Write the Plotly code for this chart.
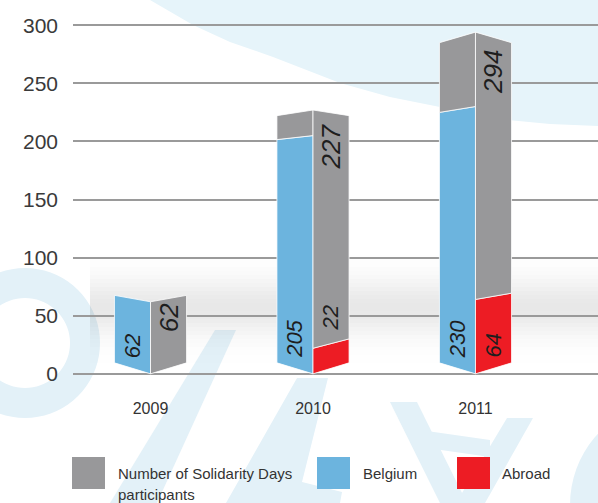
import math
import plotly.graph_objects as go

# ---------------- data ----------------
years = ["2009", "2010", "2011"]
belgium = [62, 205, 230]
abroad = [0, 22, 64]
total = [62, 227, 294]
y_ticks = [0, 50, 100, 150, 200, 250, 300]
legend_labels = ["Number of Solidarity Days", "participants", "Belgium", "Abroad"]

# ---------------- layout geometry ----------------
W, H = 598, 503
ML, MR, MT, MB = 73, 0, 24, 128
PW = W - ML - MR
PH = H - MT - MB


def px(x):
    return (x - ML) / PW


def py(y):
    return (H - MB - y) / PH


GRAY = "#98989a"
BLUE = "#6cb4de"
RED = "#ed1c24"
GHOST = "#e3f1f8"
TXT = "#333333"
FONT = "Liberation Sans, Arial, sans-serif"

HALF = 0.222     # width of one face, in category units
EYE = 150        # perspective eye level, in value units
PERSP = 0.063    # perspective strength


def outer(v):
    return v + PERSP * (EYE - v)


fig = go.Figure()


def face(xc, side, y0, y1, color):
    xo = xc + side * HALF
    fig.add_trace(go.Scatter(
        x=[xc, xo, xo, xc, xc],
        y=[y0, outer(y0), outer(y1), y1, y0],
        fill="toself", fillcolor=color, mode="lines",
        line=dict(color="white", width=0.8),
        hoverinfo="skip", showlegend=False))


annotations = []
for i, yr in enumerate(years):
    xc = i
    face(xc, -1, 0, belgium[i], BLUE)
    if total[i] > belgium[i]:
        face(xc, -1, belgium[i], total[i], GRAY)
    if abroad[i] > 0:
        face(xc, 1, 0, abroad[i], RED)
    face(xc, 1, abroad[i], total[i], GRAY)

    # Belgium label (left face, bottom)
    annotations.append(dict(x=xc - HALF / 2, y=12, xref="x", yref="y",
                            text="<i>%d</i>" % belgium[i], textangle=-90,
                            showarrow=False, xanchor="center", yanchor="bottom",
                            font=dict(family=FONT, size=22, color="#1e1e1e")))
    # total label (right face, top)
    annotations.append(dict(x=xc + HALF / 2, y=outer(total[i]) - 5, xref="x", yref="y",
                            text="<i>%d</i>" % total[i], textangle=-90,
                            showarrow=False, xanchor="center", yanchor="top",
                            font=dict(family=FONT, size=26, color="#1e1e1e")))
    # abroad label
    if abroad[i] > 0:
        yb = 12 if abroad[i] > 40 else outer(abroad[i]) + 5
        annotations.append(dict(x=xc + HALF / 2, y=yb, xref="x", yref="y",
                                text="<i>%d</i>" % abroad[i], textangle=-90,
                                showarrow=False, xanchor="center", yanchor="bottom",
                                font=dict(family=FONT, size=22, color="#1e1e1e")))

# ---------------- decorative background ----------------
shapes = []


def path_from(points_list):
    parts = []
    for pts in points_list:
        s = "M %.4f,%.4f " % (px(pts[0][0]), py(pts[0][1]))
        s += " ".join("L %.4f,%.4f" % (px(a), py(b)) for a, b in pts[1:])
        s += " Z"
        parts.append(s)
    return " ".join(parts)


def circle_pts(cx, cy, r, n=72, rev=False):
    pts = [(cx + r * math.cos(2 * math.pi * k / n), cy + r * math.sin(2 * math.pi * k / n)) for k in range(n)]
    return pts[::-1] if rev else pts


# top-right arc
arc = [(150, 0), (193, 25), (230, 42), (273, 57), (340, 83), (390, 97), (440, 107),
       (507, 120), (550, 124), (598, 126), (598, 0)]
shapes.append(dict(type="path", xref="paper", yref="paper", layer="below",
                   path=path_from([arc]), fillcolor="#e6f4fa", line=dict(width=0)))

# ghost letters
ghost_polys = [
    [(215, 330), (236, 330), (157, 503), (110, 503)],
    [(297, 378), (328, 378), (302, 482), (342, 492), (340, 503), (226, 503)],
    [(390, 402), (417, 402), (467, 503), (440, 503)],
    [(507, 418), (533, 418), (485, 503), (456, 503)],
    [(420, 430), (490, 440), (490, 457), (420, 447)],
]
for poly in ghost_polys:
    shapes.append(dict(type="path", xref="paper", yref="paper", layer="below",
                       path=path_from([poly]), fillcolor=GHOST, line=dict(width=0)))
shapes.append(dict(type="path", xref="paper", yref="paper", layer="below",
                   path=path_from([circle_pts(25, 343, 75), circle_pts(25, 343, 45, rev=True)]),
                   fillcolor=GHOST, line=dict(width=0)))
shapes.append(dict(type="path", xref="paper", yref="paper", layer="below",
                   path=path_from([circle_pts(675, 505, 105), circle_pts(675, 505, 70, rev=True)]),
                   fillcolor=GHOST, line=dict(width=0)))

# soft grey shadow band behind the bars
for yy in range(255, 362, 4):
    a = 0.09 * math.exp(-((yy - 305) / 28.0) ** 2)
    shapes.append(dict(type="rect", xref="paper", yref="paper", layer="below",
                       x0=px(90), x1=px(598), y0=py(yy + 4), y1=py(yy),
                       fillcolor="rgba(0,0,0,%.3f)" % a, line=dict(width=0)))

# ---------------- legend ----------------
leg = [(72, GRAY), (317, BLUE), (457, RED)]
for x0, col in leg:
    shapes.append(dict(type="rect", xref="paper", yref="paper", layer="above",
                       x0=px(x0), x1=px(x0 + 33), y0=py(489), y1=py(457),
                       fillcolor=col, line=dict(width=0)))
leg_text = [(116, 473, legend_labels[0]), (116, 494, legend_labels[1]),
            (361, 473, legend_labels[2]), (500, 473, legend_labels[3])]
for x0, y0, t in leg_text:
    annotations.append(dict(x=px(x0), y=py(y0), xref="paper", yref="paper", text=t,
                            showarrow=False, xanchor="left", yanchor="middle",
                            font=dict(family=FONT, size=15, color=TXT)))

fig.update_layout(
    width=W, height=H,
    margin=dict(l=ML, r=MR, t=MT, b=MB, pad=0),
    paper_bgcolor="white", plot_bgcolor="rgba(0,0,0,0)",
    showlegend=False,
    shapes=shapes, annotations=annotations,
    xaxis=dict(range=[-0.477, 2.754], tickvals=[0, 1, 2], ticktext=years,
               showgrid=False, zeroline=False, showline=False, ticks="",
               tickfont=dict(family=FONT, size=16, color=TXT), ticklabelstandoff=22,
               fixedrange=True),
    yaxis=dict(range=[-1, 301], tickvals=y_ticks, showgrid=True,
               gridcolor="#9a9a9a", gridwidth=1.5, zeroline=False, showline=False,
               ticks="", tickfont=dict(family=FONT, size=21, color="#3a3a3a"),
               ticklabelstandoff=14, fixedrange=True),
)

fig.write_html("out.html", config={"displayModeBar": False},
               post_script="document.body.style.margin='0';document.body.style.overflow='hidden';")
